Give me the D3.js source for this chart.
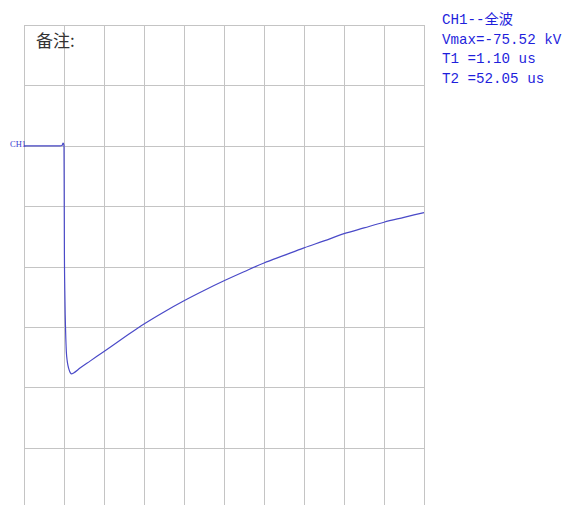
<!DOCTYPE html>
<html>
<head>
<meta charset="utf-8">
<script src="https://cdn.jsdelivr.net/npm/d3@7"></script>
<style>
  html, body { margin: 0; padding: 0; background: #fff; overflow: hidden; }
  svg { display: block; }
</style>
</head>
<body>
<svg id="chart" width="566" height="505"></svg>
<script>
// Time axis divisions (µs), 10 µs/div
const timeTicks = [-10, 0, 10, 20, 30, 40, 50, 60, 70, 80, 90];
// Voltage axis divisions (kV), 20 kV/div
const voltTicks = [40, 20, 0, -20, -40, -60, -80, -100, -120];
// Waveform samples: time (µs) and voltage (kV)
const timeUs = [-10, -5, -1, -0.5, -0.25, -0.15, 0, 0.05, 0.1, 0.2, 0.3, 0.4, 0.6, 0.8, 1.0, 1.3, 1.6, 1.9, 2.4, 4, 6.5, 10, 15, 20, 25, 30, 35, 40, 45, 50, 55, 60, 65, 70, 75, 80, 85, 90];
const voltKv = [0, 0, 0, 0.1, 0.9, 0.8, 0, -15, -34.8, -48, -56, -61.3, -68.5, -71.2, -72.8, -74.3, -75.2, -75.52, -75.2, -73.6, -71.3, -68.1, -63.5, -59.0, -55.0, -51.3, -47.9, -44.7, -41.7, -38.8, -36.3, -33.8, -31.5, -29.1, -27.2, -25.3, -23.7, -22.1];
// Annotations
const noteLabel = "备注:";
const channelLabel = "CH1";
const infoLines = ["CH1--全波", "Vmax=-75.52 kV", "T1 =1.10 us", "T2 =52.05 us"];

const svg = d3.select("#chart");
const x = d3.scaleLinear().domain([-10, 90]).range([24, 424]);
const y = d3.scaleLinear().domain([40, -120]).range([25, 25 + 8 * 60.4]);

const grid = svg.append("g").attr("stroke", "#c4c4c4").attr("stroke-width", 1);
grid.selectAll("line.v").data(timeTicks).join("line")
  .attr("class", "v")
  .attr("x1", d => Math.round(x(d)) + 0.5).attr("x2", d => Math.round(x(d)) + 0.5)
  .attr("y1", y(40)).attr("y2", y(-120));
grid.selectAll("line.h").data(voltTicks).join("line")
  .attr("class", "h")
  .attr("y1", d => Math.round(y(d)) + 0.5).attr("y2", d => Math.round(y(d)) + 0.5)
  .attr("x1", x(-10)).attr("x2", x(90) + 1);

const pts = timeUs.map((t, i) => [t, voltKv[i]]);
svg.append("path")
  .datum(pts)
  .attr("fill", "none")
  .attr("stroke", "#4a4ac8")
  .attr("stroke-width", 1.2)
  .attr("d", d3.line().curve(d3.curveMonotoneX).x(d => x(d[0])).y(d => y(d[1])));

svg.append("text")
  .attr("x", 36).attr("y", 47)
  .attr("font-family", "'Noto Sans CJK SC', sans-serif")
  .attr("font-size", 17)
  .attr("fill", "#333")
  .text(noteLabel);

svg.append("text")
  .attr("x", 10).attr("y", y(0) + 1)
  .attr("font-family", "'Liberation Serif', serif")
  .attr("font-size", 8.5)
  .attr("fill", "#3a3ad0")
  .text(channelLabel);

svg.append("g").selectAll("text").data(infoLines).join("text")
  .attr("x", 442)
  .attr("y", (d, i) => 24 + i * 19.5)
  .attr("font-family", "'Liberation Mono', 'Noto Sans CJK SC', monospace")
  .attr("font-size", 14.2)
  .attr("fill", "#1f1fdc")
  .text(d => d);
</script>
</body>
</html>
